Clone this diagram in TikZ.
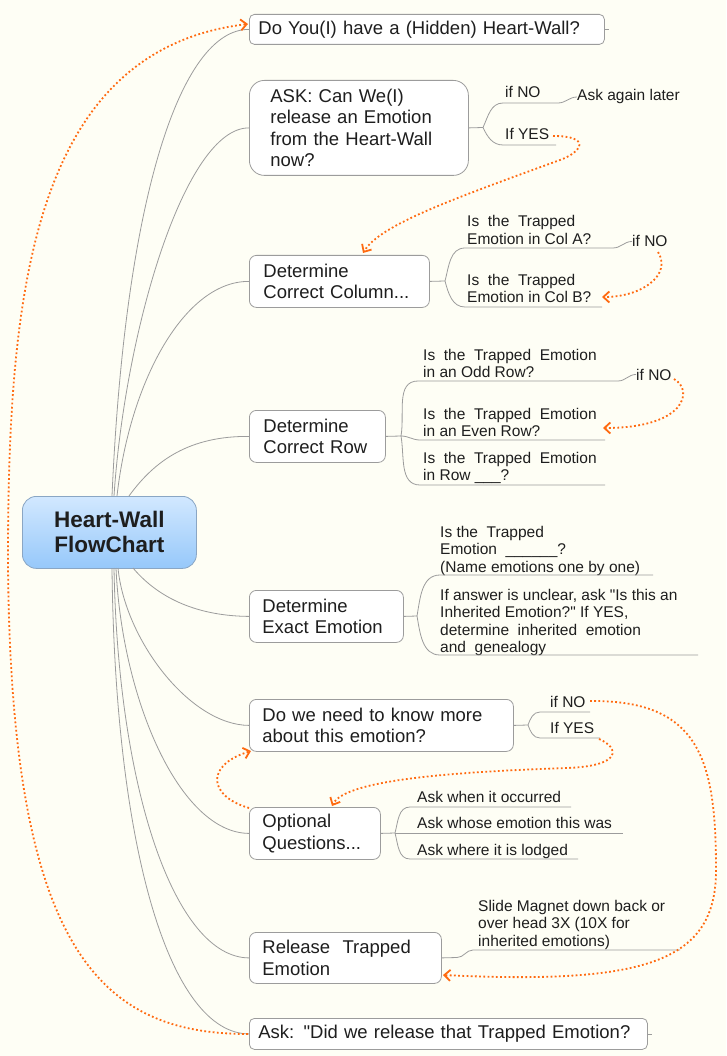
\documentclass[tikz,border=0pt]{standalone}
\usepackage{fontspec}
\setmainfont{Liberation Sans}
\usetikzlibrary{arrows.meta,calc}
\definecolor{bg}{HTML}{FEFEF5}
\definecolor{edge}{HTML}{9C9C9C}
\definecolor{org}{HTML}{FF6A10}
\definecolor{txt}{HTML}{1E1E1E}
\definecolor{cTop}{HTML}{D2E8FF}
\definecolor{cMid}{HTML}{9CCBFA}
\definecolor{cBot}{HTML}{96C8FA}
\definecolor{cBorder}{HTML}{8AA6C4}
\newcommand{\plines}[1]{\parbox[t]{240pt}{\raggedright #1}}
\begin{document}
\begin{tikzpicture}[x=1pt,y=-1pt,
  topic/.style={draw=edge, line width=0.8pt, fill=white, rounded corners=7pt, anchor=north west,
    align=left, inner xsep=13pt, inner ysep=0pt, font=\fontsize{18.5}{21.3}\selectfont, text=txt},
  branch/.style={draw=edge, line width=0.8pt},
  sub/.style={anchor=base west, inner sep=0pt, font=\fontsize{15.5}{17.5}\selectfont, text=txt},
  jump/.style={draw=org, line width=1.8pt, dash pattern=on 1.8pt off 2.4pt,
    -{Straight Barb[length=6pt,width=11pt]}},
]
\useasboundingbox (0,0) rectangle (726,1056);
\path[fill=bg] (0,0) rectangle (726,1056);

% central topic
\node[draw=cBorder, line width=0.8pt, rounded corners=14pt, top color=cTop, middle color=cMid, bottom color=cBot,
  minimum width=174pt, minimum height=72pt, anchor=north west, align=center, inner sep=0pt,
  font=\bfseries\fontsize{22.5}{25}\selectfont, text=txt] (c) at (22,496) {Heart-Wall\\FlowChart};

% main topics
\node[topic, rounded corners=5pt, text width=337pt, inner xsep=9pt, minimum height=30pt] (n1) at (249,14)
  {Do You(I) have a (Hidden) Heart-Wall?};
\node[topic, rounded corners=15pt, text width=177pt, inner xsep=21pt, minimum height=95pt] (n2) at (249,80)
  {ASK: Can We(I)\\release an Emotion\\from the Heart-Wall\\now?};
\node[topic, text width=152pt, inner xsep=14pt, minimum height=52pt] (n3) at (249,255)
  {Determine\\Correct Column...};
\node[topic, text width=108pt, inner xsep=14pt, minimum height=52pt] (n4) at (249,410)
  {Determine\\Correct Row};
\node[topic, text width=128pt, minimum height=52pt] (n5) at (249,590)
  {Determine\\Exact Emotion};
\node[topic, text width=238pt, minimum height=52pt] (n6) at (249,699)
  {Do we need to know more\\about this emotion?};
\node[topic, text width=105pt, minimum height=52pt] (n7) at (249,807)
  {Optional\\Questions...};
\node[topic, text width=166pt, minimum height=51pt] (n8) at (249,932)
  {Release\ \ Trapped\\Emotion};
\node[topic, rounded corners=5pt, text width=380pt, inner xsep=9pt, minimum height=31pt] (n9) at (249,1018)
  {Ask: \textquotedbl Did we release that Trapped Emotion?};

% start points on the central topic
\coordinate (u1) at (112,496);
\coordinate (u2) at (114,496);
\coordinate (u3) at (117,496);
\coordinate (u4) at (129,496);
\coordinate (d5) at (133,568);
\coordinate (d6) at (118,568);
\coordinate (d7) at (116,568);
\coordinate (d8) at (114,568);
\coordinate (d9) at (112,568);

\draw[branch] (u1) .. controls (125,200) and (180,29) .. (n1.west);
\draw[branch] (u2) .. controls (125,330) and (185,127.5) .. (n2.west);
\draw[branch] (u3) .. controls (130,380) and (185,281) .. (n3.west);
\draw[branch] (u4) .. controls (155,460) and (190,436) .. (n4.west);
\draw[branch] (d5) .. controls (160,600) and (200,616) .. (n5.west);
\draw[branch] (d6) .. controls (125,640) and (190,725) .. (n6.west);
\draw[branch] (d7) .. controls (122,700) and (180,833) .. (n7.west);
\draw[branch] (d8) .. controls (118,790) and (175,957.5) .. (n8.west);
\draw[branch] (d9) .. controls (115,850) and (170,1033.5) .. (n9.west);

% stubs
\draw[branch] (n1.east) -- ++(4,0);
\draw[branch] (n9.east) -- ++(4,0);

% ---- node 2 subtopics
\node[sub] (l2no) at (505,97.5) {if NO};
\node[sub] (l2yes) at (505,140) {If YES};
\node[sub] (l2later) at (577,101) {Ask again later};
\draw[branch] (n2.east) -- (483,127.5) to[out=65,in=180] (503,103) -- (558,103) to[out=0,in=180] (l2later.west);
\draw[branch] (483,127.5) to[out=-65,in=180] (503,145) -- (556,145);

% ---- node 3 subtopics
\node[sub] (l3a) at (467,227) {\plines{Is\ \ the\ \ Trapped\\Emotion in Col A?}};
\node[sub] (l3b) at (467,285) {\plines{Is\ \ the\ \ Trapped\\Emotion in Col B?}};
\node[sub] (l3no) at (632,247) {if NO};
\draw[branch] (n3.east) -- (445,281) to[out=75,in=180] (465,248) -- (613,248) to[out=0,in=180] (l3no.west);
\draw[branch] (445,281) to[out=-75,in=180] (465,307) -- (602,307);

% ---- node 4 subtopics
\node[sub] (l4a) at (423,360) {\plines{Is\ \ the\ \ Trapped\ \ Emotion\\in an Odd Row?}};
\node[sub] (l4b) at (423,419) {\plines{Is\ \ the\ \ Trapped\ \ Emotion\\in an Even Row?}};
\node[sub] (l4c) at (423,463) {\plines{Is\ \ the\ \ Trapped\ \ Emotion\\in Row \_\_\_?}};
\node[sub] (l4no) at (636,380) {if NO};
\draw[branch] (n4.east) -- (401,436) to[out=80,in=180] (418,381) -- (618,381) to[out=0,in=180] (l4no.west);
\draw[branch] (401,436) to[out=0,in=180] (420,440) -- (605,440);
\draw[branch] (401,436) to[out=-80,in=180] (420,485) -- (605,485);

% ---- node 5 subtopics
\node[sub] (l5a) at (440,537) {\plines{Is the\ \ Trapped\\Emotion\ \ \_\_\_\_\_\_?\\(Name emotions one by one)}};
\node[sub] (l5b) at (440,600) {\plines{If answer is unclear, ask \textquotedbl Is this an\\Inherited Emotion?\textquotedbl\ If YES,\\determine\ \ inherited\ \ emotion\\and\ \ genealogy}};
\draw[branch] (n5.east) -- (417,616) to[out=80,in=180] (440,575) -- (653,575);
\draw[branch] (417,616) to[out=-80,in=180] (440,655) -- (698,655);

% ---- node 6 subtopics
\node[sub] (l6no) at (550,707) {if NO};
\node[sub] (l6yes) at (550,733) {If YES};
\draw[branch] (n6.east) -- (528,725) to[out=70,in=180] (540,712) -- (590,712);
\draw[branch] (528,725) to[out=-70,in=180] (540,738) -- (600,738);

% ---- node 7 subtopics
\node[sub] (l7a) at (417,802) {Ask when it occurred};
\node[sub] (l7b) at (417,828) {Ask whose emotion this was};
\node[sub] (l7c) at (417,855) {Ask where it is lodged};
\draw[branch] (n7.east) -- (395,833) to[out=75,in=180] (410,807) -- (571,807);
\draw[branch] (395,833) -- (623,833);
\draw[branch] (395,833) to[out=-75,in=180] (410,859) -- (578,859);

% ---- node 8 subtopic
\node[sub] (l8) at (478,911) {\plines{Slide Magnet down back or\\over head 3X (10X for\\inherited emotions)}};
\draw[branch] (n8.east) -- (457,957.5) to[out=0,in=180] (473,950) -- (680,950);

% ---- orange jumps
\coordinate (j1s) at (553,136);
\coordinate (j1e) at (363,253);
\draw[jump] (j1s) .. controls (592,136) and (582,152) .. (560,160) .. controls (450,200) and (380,225) .. (j1e);

\coordinate (j2s) at (658,252);
\coordinate (j2e) at (602,297);
\draw[jump] (j2s) .. controls (672,275) and (642,297) .. (j2e);

\coordinate (j3s) at (674,379);
\coordinate (j3e) at (603,428);
\draw[jump] (j3s) .. controls (694,390) and (686,428) .. (j3e);

\coordinate (j4s) at (599,739);
\coordinate (j4e) at (332,806);
\draw[jump] (j4s) .. controls (620,748) and (622,766) .. (567,768) .. controls (450,772) and (345,780) .. (j4e);

\coordinate (j5s) at (249,808);
\coordinate (j5e) at (251,751);
\draw[jump] (j5s) .. controls (208,796) and (205,765) .. (j5e);

\coordinate (j6s) at (590,701);
\coordinate (j6e) at (443,975);
\draw[jump] (j6s) .. controls (700,700) and (716,760) .. (716,870) .. controls (716,960) and (650,985) .. (j6e);

\coordinate (j7s) at (248,1034);
\coordinate (j7e) at (248,24);
\draw[jump] (j7s) .. controls (100,1034) and (10,950) .. (8,560) .. controls (8,300) and (30,50) .. (j7e);
\end{tikzpicture}
\end{document}
